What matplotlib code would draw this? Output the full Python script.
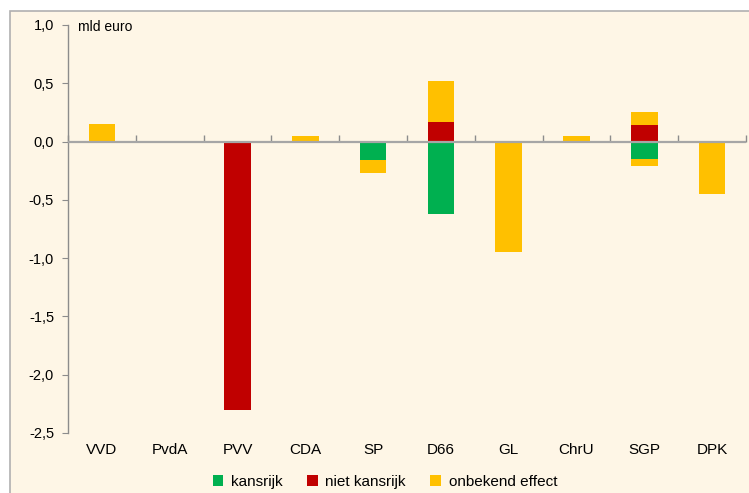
import matplotlib
matplotlib.use("Agg")
import matplotlib.pyplot as plt
from matplotlib.patches import Rectangle, Patch
import numpy as np

plt.rcParams['font.family'] = ['Liberation Sans', 'DejaVu Sans']

partijen = ["VVD", "PvdA", "PVV", "CDA", "SP", "D66", "GL", "ChrU", "SGP", "DPK"]
kansrijk = [0, 0, 0, 0, -0.16, -0.62, 0, 0, -0.15, 0]
niet_kansrijk = [0, 0, -2.30, 0, 0, 0.17, 0, 0, 0.14, 0]
onbekend_pos = [0.15, 0, 0, 0.05, 0, 0.35, 0, 0.05, 0.11, 0]
onbekend_neg = [0, 0, 0, 0, -0.11, 0, -0.95, 0, -0.06, -0.45]
yticks = [1.0, 0.5, 0.0, -0.5, -1.0, -1.5, -2.0, -2.5]
series_names = ["kansrijk", "niet kansrijk", "onbekend effect"]

GREEN = "#00B050"
RED = "#C00000"
YELLOW = "#FFC000"
BG = "#FEF6E6"

W, H = 749, 493
fig = plt.figure(figsize=(W / 100, H / 100), dpi=100)
fig.patch.set_facecolor("white")
bgrect = Rectangle((10 / W, -0.05), 1.1, 1.05 - 11 / H, transform=fig.transFigure,
                   facecolor=BG, edgecolor="#B0B0B0", linewidth=1.2, zorder=-10)
fig.add_artist(bgrect)

ax = fig.add_axes([68 / W, 1 - 433 / H, (746 - 68) / W, (433 - 25) / H])
ax.set_facecolor("none")
ax.set_zorder(5)

x = np.arange(len(partijen))
k = np.array(kansrijk)
n = np.array(niet_kansrijk)
op = np.array(onbekend_pos)
on = np.array(onbekend_neg)
bw = 0.39
ekw = dict(linewidth=0, zorder=3)

# negative stack: kansrijk, niet kansrijk (neg), onbekend
neg_k = np.minimum(k, 0)
neg_n = np.minimum(n, 0)
ax.bar(x, neg_k, bw, color=GREEN, **ekw)
ax.bar(x, neg_n, bw, bottom=neg_k, color=RED, **ekw)
ax.bar(x, on, bw, bottom=neg_k + neg_n, color=YELLOW, **ekw)
# positive stack: niet kansrijk, onbekend
pos_n = np.maximum(n, 0)
ax.bar(x, pos_n, bw, color=RED, **ekw)
ax.bar(x, op, bw, bottom=pos_n, color=YELLOW, **ekw)

ax.set_xlim(-0.5, len(partijen) - 0.5)
ax.set_ylim(-2.5, 1.0)
ax.set_yticks(yticks)
ax.set_yticklabels([f"{v:.1f}".replace(".", ",") for v in yticks])
ax.tick_params(axis="y", direction="out", length=4, color="#8C8C8C", labelsize=10.5, pad=6)

ax.set_xticks(x)
ax.set_xticklabels(partijen)
ax.tick_params(axis="x", length=0, labelsize=11, pad=7)

for s in ["top", "right", "bottom"]:
    ax.spines[s].set_visible(False)
ax.spines["left"].set_color("#8C8C8C")
ax.spines["left"].set_linewidth(1)

# zero axis line
ax.axhline(0, color="#A6A6A6", linewidth=1.6, zorder=4)
# category boundary ticks on the zero axis
sec = ax.secondary_xaxis(2.5 / 3.5)
sec.set_xticks(np.arange(-0.5, len(partijen), 1.0))
sec.set_xticklabels([])
sec.tick_params(axis="x", direction="out", length=5, color="#8C8C8C", width=1)
for s in ["top", "left", "right", "bottom"]:
    sec.spines[s].set_visible(False)

ax.text(78 / W, 1 - 27 / H, "mld euro", transform=fig.transFigure, fontsize=10,
        va="center", ha="left")

handles = [Patch(facecolor=c, edgecolor="none") for c in (GREEN, RED, YELLOW)]
fig.legend(handles, series_names, loc="center", bbox_to_anchor=(385 / W, 1 - 482 / H),
           ncol=3, frameon=False, fontsize=11, handlelength=0.7, handleheight=0.7,
           handletextpad=0.5, columnspacing=1.6)

fig.savefig("out.png", dpi=100)
